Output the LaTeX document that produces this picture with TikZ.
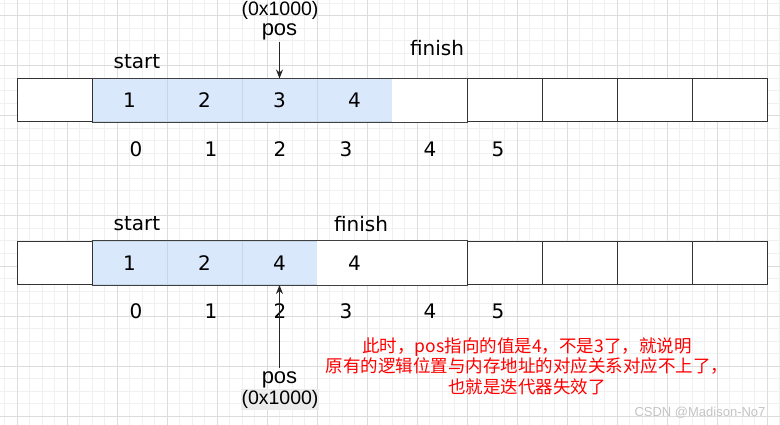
\documentclass[tikz,border=0pt]{standalone}
\usepackage{fontspec}
\setmainfont{DejaVu Sans}
\newfontfamily\arialfont{Liberation Sans}
\newfontfamily\cjkfont{Noto Sans CJK SC}
\usepackage{tikz}
\usetikzlibrary{arrows.meta}
\definecolor{cellblue}{HTML}{DAE8FC}
\definecolor{cellblueline}{HTML}{C6D6EA}
\definecolor{gridmajor}{HTML}{DCDCDC}
\definecolor{gridminor}{HTML}{F0F0F0}
\definecolor{notered}{HTML}{FF0000}
\definecolor{tagbg}{HTML}{EBEBEB}
\definecolor{markgray}{HTML}{C4C4C4}

\begin{document}
\begin{tikzpicture}[
    x=1pt, y=-1pt,
    >={Stealth[length=9pt,width=7pt]},
    cell/.style={draw=black!80, line width=1pt, fill=white,
      minimum width=75pt, minimum height=43pt, inner sep=0pt,
      font=\fontsize{20}{24}\selectfont},
    used/.style={cell, fill=cellblue, draw=cellblueline},
    spare/.style={cell, draw=none},
    rowedge/.style={draw=black!75, line width=1pt},
    idx/.style={font=\fontsize{20}{24}\selectfont},
    tag/.style={font=\fontsize{20}{24}\selectfont},
    ptrname/.style={font=\arialfont\fontsize{22}{24}\selectfont, inner sep=0pt},
    addr/.style={font=\arialfont\fontsize{19.5}{22}\selectfont, inner sep=0pt},
    ptr/.style={->, line width=1pt, draw=black!85},
    note/.style={font=\cjkfont\fontsize{17.5}{20.5}\selectfont,
      text=notered, align=center},
  ]
    \useasboundingbox (0,0) rectangle (780,425);
    \fill[white] (0,0) rectangle (780,425);
    \begin{scope}
      \clip (0,0) rectangle (780,425);
      \draw[gridminor, step=12.5pt, shift={(17,15.7)}] (-25,425) grid (780,-25);
      \draw[gridmajor, step=50pt, shift={(17,15.7)}] (-25,425) grid (780,-25);
    \end{scope}

    \node[used] (a1) at (129.5,100.5) {1};
    \node[used] (a2) at (204.5,100.5) {2};
    \node[used] (a3) at (279.5,100.5) {3};
    \node[used] (a4) at (354.5,100.5) {4};
    \node[spare] (a5) at (429.5,100.5) {};
    \node[cell] (a0) at (54.5,100.5) {};
    \node[cell] (a6) at (504.5,100.5) {};
    \node[cell] (a7) at (579.5,100.5) {};
    \node[cell] (a8) at (654.5,100.5) {};
    \node[cell] (a9) at (729.5,100.5) {};
    \draw[rowedge] (a1.north west) -- (a5.north east);
    \draw[rowedge] (a1.south west) -- (a5.south east);

    \node[tag] (start1) at (137,62) {start};
    \node[tag] (finish1) at (437,48) {finish};
    \node[addr] (addr1) at (280,10.5) {(0x1000)};
    \node[ptrname] (pos1) at (279.5,31.5) {pos};
    \draw[ptr, shorten <=2pt] (pos1.south) -- (a3.north);

    \node[idx] (i0) at (136,149) {0};
    \node[idx] (i1) at (211,149) {1};
    \node[idx] (i2) at (280,149) {2};
    \node[idx] (i3) at (346,149) {3};
    \node[idx] (i4) at (430,149) {4};
    \node[idx] (i5) at (498,149) {5};

    \node[used] (b1) at (129.5,263) {1};
    \node[used] (b2) at (204.5,263) {2};
    \node[used] (b3) at (279.5,263) {4};
    \node[spare] (b4) at (354.5,263) {4};
    \node[spare] (b5) at (429.5,263) {};
    \node[cell] (b0) at (54.5,263) {};
    \node[cell] (b6) at (504.5,263) {};
    \node[cell] (b7) at (579.5,263) {};
    \node[cell] (b8) at (654.5,263) {};
    \node[cell] (b9) at (729.5,263) {};
    \draw[rowedge] (b1.north west) -- (b5.north east);
    \draw[rowedge] (b1.south west) -- (b5.south east);

    \node[tag] (start2) at (137,224) {start};
    \node[tag] (finish2) at (361,224) {finish};

    \node[idx] (j0) at (136,311) {0};
    \node[idx] (j1) at (211,311) {1};
    \node[idx] (j2) at (280,311) {2};
    \node[idx] (j3) at (346,311) {3};
    \node[idx] (j4) at (430,311) {4};
    \node[idx] (j5) at (498,311) {5};

    \node[ptrname] (pos2) at (279.5,379.5) {pos};
    \node[addr, fill=tagbg, inner xsep=1pt, inner ysep=1.5pt] (addr2)
      at (280,399.5) {(0x1000)};
    \draw[ptr, shorten <=3pt] (pos2.north) -- (b3.south);

    \node[note] (msg) at (527,366)
      {此时，pos指向的值是4，不是3了，就说明\\
       原有的逻辑位置与内存地址的对应关系对应不上了，\\
       也就是迭代器失效了};
    \node[font=\arialfont\fontsize{13}{15}\selectfont, text=markgray]
      (mark) at (700,413) {CSDN @Madison-No7};
  \end{tikzpicture}
\end{document}
